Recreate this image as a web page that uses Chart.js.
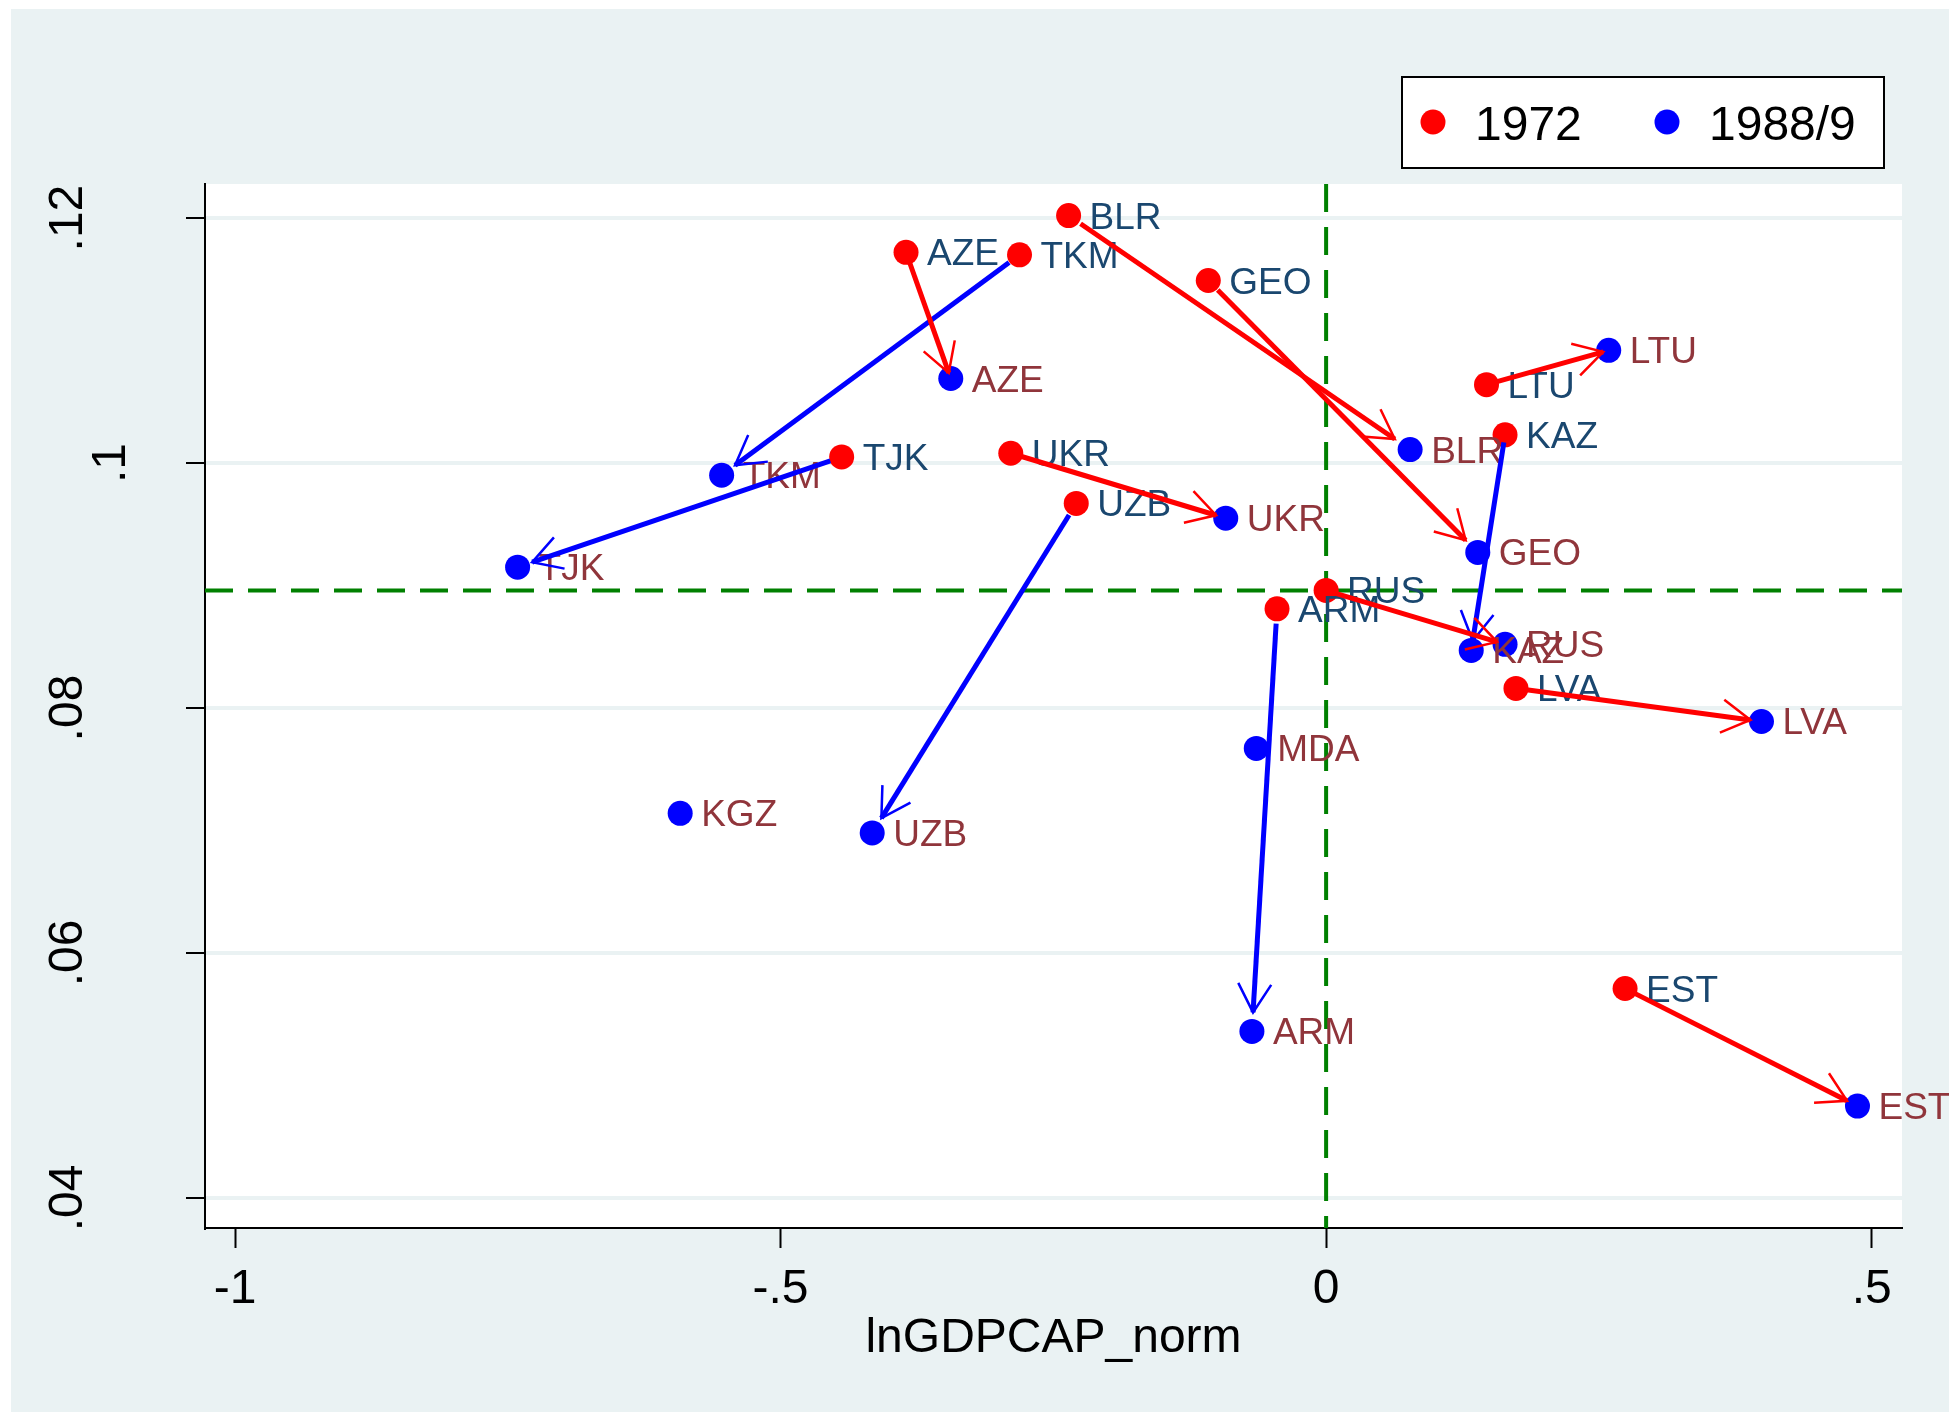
<!DOCTYPE html>
<html>
<head>
<meta charset="utf-8">
<title>lnGDPCAP_norm 1972 vs 1988/9</title>
<script src="https://cdn.jsdelivr.net/npm/chart.js@4.4.1/dist/chart.umd.min.js"></script>
<style>
  html, body { margin: 0; padding: 0; background: #fff; overflow: hidden; }
  #wrap { width: 1949px; height: 1413px; }
</style>
</head>
<body>
<div id="wrap"><canvas id="chart" width="1949" height="1413"></canvas></div>
<script>
const countries = ["AZE", "BLR", "TKM", "GEO", "LTU", "KAZ", "TJK", "UKR", "UZB", "RUS", "ARM", "LVA", "EST", "MDA", "KGZ"];
const x1972 = [-0.385, -0.236, -0.281, -0.108, 0.147, 0.164, -0.444, -0.289, -0.229, 0.000, -0.045, 0.174, 0.274, null, null];
const y1972 = [0.1172, 0.1202, 0.1170, 0.1149, 0.1064, 0.1023, 0.1005, 0.1008, 0.0967, 0.0896, 0.0881, 0.0816, 0.0571, null, null];
const x1988 = [-0.344, 0.077, -0.554, 0.139, 0.259, 0.133, -0.741, -0.092, -0.416, 0.164, -0.068, 0.399, 0.487, -0.064, -0.592];
const y1988 = [0.1069, 0.1011, 0.0990, 0.0927, 0.1092, 0.0847, 0.0915, 0.0955, 0.0698, 0.0852, 0.0536, 0.0789, 0.0475, 0.0767, 0.0714];

const xTicks = [-1, -0.5, 0, 0.5];
const yTicks = [0.04, 0.06, 0.08, 0.1, 0.12];
const refX = 0;
const refY = 0.0896;

const FONT = '"Liberation Sans", Arial, Helvetica, sans-serif';
const bgColor = '#eaf2f3';
const navy = '#1a476f';
const maroon = '#90353b';

// stata style: drop the leading zero
const fmt = v => String(+v.toFixed(2)).replace(/^(-?)0\./, '$1.');

const toPoints = (xs, ys) => xs
  .map((x, i) => ({ x: x, y: ys[i], name: countries[i] }))
  .filter(p => p.x !== null && p.y !== null);

function drawArrow(ctx, x1, y1, x2, y2, color) {
  const dx = x2 - x1, dy = y2 - y1;
  const sx = x1 + dx * 0.035, sy = y1 + dy * 0.035;
  const ex = x2 - dx * 0.045, ey = y2 - dy * 0.045;
  const ang = Math.atan2(dy, dx);
  const head = 33;
  ctx.strokeStyle = color;
  ctx.lineWidth = 5;
  ctx.beginPath();
  ctx.moveTo(sx, sy);
  ctx.lineTo(ex, ey);
  ctx.stroke();
  ctx.lineWidth = 2.5;
  ctx.beginPath();
  ctx.moveTo(ex - head * Math.cos(ang - Math.PI / 6), ey - head * Math.sin(ang - Math.PI / 6));
  ctx.lineTo(ex, ey);
  ctx.lineTo(ex - head * Math.cos(ang + Math.PI / 6), ey - head * Math.sin(ang + Math.PI / 6));
  ctx.stroke();
}

const stataLook = {
  id: 'stataLook',
  beforeDraw(chart) {
    const { ctx, chartArea: a } = chart;
    ctx.save();
    ctx.fillStyle = '#fff';
    ctx.fillRect(0, 0, chart.width, chart.height);
    ctx.fillStyle = bgColor;
    ctx.fillRect(11, 9, chart.width - 11, chart.height - 10);
    ctx.fillStyle = '#fff';
    ctx.fillRect(a.left, a.top, a.right - a.left, a.bottom - a.top);
    ctx.restore();
  },
  beforeDatasetsDraw(chart) {
    const { ctx, chartArea: a } = chart;
    const xs = chart.scales.x, ys = chart.scales.y;
    ctx.save();
    ctx.strokeStyle = '#008000';
    ctx.lineWidth = 4;
    ctx.setLineDash([28, 15]);
    const px = xs.getPixelForValue(refX);
    ctx.beginPath();
    ctx.moveTo(px, a.top);
    ctx.lineTo(px, a.bottom);
    ctx.stroke();
    const py = ys.getPixelForValue(refY);
    ctx.beginPath();
    ctx.moveTo(a.left, py);
    ctx.lineTo(a.right, py);
    ctx.stroke();
    ctx.restore();
  },
  afterDatasetsDraw(chart) {
    const { ctx } = chart;
    const xs = chart.scales.x, ys = chart.scales.y;
    ctx.save();
    // marker labels
    ctx.font = `37px ${FONT}`;
    ctx.textAlign = 'left';
    ctx.textBaseline = 'alphabetic';
    chart.data.datasets.forEach(ds => {
      ctx.fillStyle = ds.labelColor;
      ds.data.forEach(p => {
        ctx.fillText(p.name, xs.getPixelForValue(p.x) + 21, ys.getPixelForValue(p.y) + 13);
      });
    });
    // arrows, falling ones first
    const arrows = countries.map((c, i) => i)
      .filter(i => x1972[i] !== null && x1988[i] !== null)
      .sort((a, b) => (x1988[a] > x1972[a]) - (x1988[b] > x1972[b]));
    arrows.forEach(i => {
      const color = x1988[i] > x1972[i] ? '#ff0000' : '#0000ff';
      drawArrow(ctx,
        xs.getPixelForValue(x1972[i]), ys.getPixelForValue(y1972[i]),
        xs.getPixelForValue(x1988[i]), ys.getPixelForValue(y1988[i]), color);
    });
    ctx.restore();
  },
  afterDraw(chart) {
    const { ctx, chartArea: a } = chart;
    const xs = chart.scales.x, ys = chart.scales.y;
    ctx.save();
    ctx.fillStyle = '#000';
    ctx.font = `48px ${FONT}`;
    ctx.textAlign = 'center';
    ctx.textBaseline = 'alphabetic';
    xs.ticks.forEach(t => {
      ctx.fillText(fmt(t.value), xs.getPixelForValue(t.value), 1303);
    });
    ys.ticks.forEach(t => {
      const lbl = fmt(t.value);
      const bx = 82 + (3 - lbl.length) * 43;
      ctx.save();
      ctx.translate(bx, ys.getPixelForValue(t.value));
      ctx.rotate(-Math.PI / 2);
      ctx.fillText(lbl, 0, 0);
      ctx.restore();
    });
    ctx.fillText('lnGDPCAP_norm', (a.left + a.right) / 2, 1352);

    // legend
    ctx.fillStyle = '#fff';
    ctx.fillRect(1402, 77, 482, 91);
    ctx.strokeStyle = '#000';
    ctx.lineWidth = 2;
    ctx.strokeRect(1402, 77, 482, 91);
    const slots = [1433, 1667];
    chart.data.datasets.forEach((ds, k) => {
      ctx.fillStyle = ds.backgroundColor;
      ctx.beginPath();
      ctx.arc(slots[k], 122, 12.5, 0, Math.PI * 2);
      ctx.fill();
      ctx.fillStyle = '#000';
      ctx.textAlign = 'left';
      ctx.fillText(ds.label, slots[k] + 42, 140);
    });
    ctx.restore();
  }
};

new Chart(document.getElementById('chart'), {
  type: 'scatter',
  data: {
    datasets: [
      {
        label: '1972',
        data: toPoints(x1972, y1972),
        backgroundColor: '#ff0000',
        pointRadius: 12.5,
        pointBorderWidth: 0,
        labelColor: navy
      },
      {
        label: '1988/9',
        data: toPoints(x1988, y1988),
        backgroundColor: '#0000ff',
        pointRadius: 12.5,
        pointBorderWidth: 0,
        labelColor: maroon
      }
    ]
  },
  options: {
    responsive: false,
    animation: false,
    devicePixelRatio: 1,
    events: [],
    layout: { padding: { left: 0, top: 184, right: 47, bottom: 0 } },
    plugins: {
      legend: { display: false },
      tooltip: { enabled: false }
    },
    scales: {
      x: {
        type: 'linear',
        min: -1.0275,
        max: 0.5278,
        afterBuildTicks: s => { s.ticks = xTicks.map(v => ({ value: v })); },
        afterFit: s => { s.height = 185; },
        ticks: { display: false },
        grid: { drawOnChartArea: false, drawTicks: true, tickLength: 20, tickColor: '#000', tickWidth: 2 },
        border: { display: true, color: '#000', width: 2 }
      },
      y: {
        type: 'linear',
        min: 0.03755,
        max: 0.12278,
        afterBuildTicks: s => { s.ticks = yTicks.map(v => ({ value: v })); },
        afterFit: s => { s.width = 205; },
        ticks: { display: false },
        grid: { color: bgColor, lineWidth: 4, drawTicks: true, tickLength: 19, tickColor: '#000', tickWidth: 2 },
        border: { display: true, color: '#000', width: 2 }
      }
    }
  },
  plugins: [stataLook]
});
</script>
</body>
</html>
